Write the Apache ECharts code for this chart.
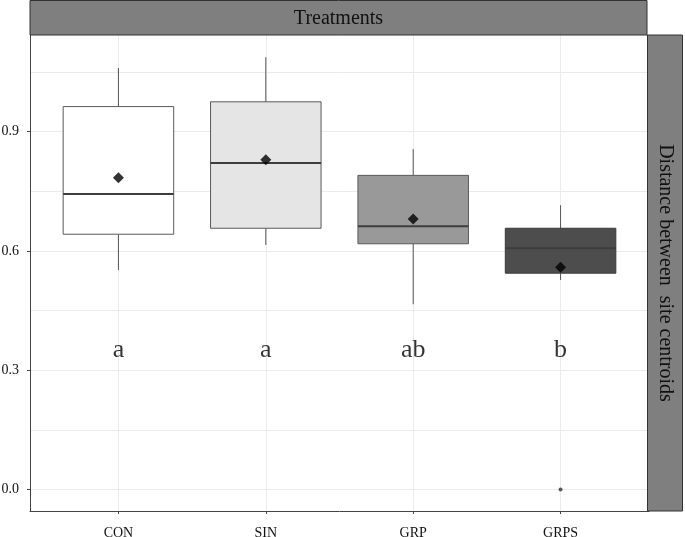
<!DOCTYPE html>
<html>
<head>
<meta charset="utf-8">
<script src="https://cdn.jsdelivr.net/npm/echarts@6/dist/echarts.min.js"></script>
<style>
  html, body { margin: 0; padding: 0; background: #fff; }
  #chart { width: 685px; height: 537px; }
</style>
</head>
<body>
<div id="chart"></div>
<script>
// boxplot stats per treatment
const categories = ['CON', 'SIN', 'GRP', 'GRPS'];
const whiskerLow = [0.552, 0.615, 0.466, 0.527];
const q1 = [0.642, 0.657, 0.618, 0.544];
const medians = [0.743, 0.821, 0.662, 0.607];
const q3 = [0.963, 0.975, 0.790, 0.657];
const whiskerHigh = [1.06, 1.087, 0.856, 0.715];
const means = [0.784, 0.829, 0.680, 0.559];
const letters = ['a', 'a', 'ab', 'b'];
const outliers = [[4, 0.0]];
const boxFills = ['#ffffff', '#e5e5e5', '#999999', '#4d4d4d'];

const yTicks = [0, 0.3, 0.6, 0.9];
const yMinor = [0.15, 0.45, 0.75, 1.05];
const xTicks = [1, 2, 3, 4];

const FONT = 'Liberation Serif';
const chart = echarts.init(document.getElementById('chart'));

const boxData = categories.map((c, i) => [i + 1, whiskerLow[i], q1[i], medians[i], q3[i], whiskerHigh[i]]);

function renderBox(params, api) {
  const x = api.value(0);
  const half = 0.375;
  const lo = api.coord([x, api.value(1)]);
  const b1 = api.coord([x - half, api.value(2)]);
  const md = api.coord([x, api.value(3)]);
  const b3 = api.coord([x + half, api.value(4)]);
  const hi = api.coord([x, api.value(5)]);
  const fill = boxFills[params.dataIndex];
  const edge = params.dataIndex === 3 ? '#3a3a3a' : '#5a5a5a';
  return {
    type: 'group',
    children: [
      { type: 'line', shape: { x1: hi[0], y1: hi[1], x2: hi[0], y2: b3[1] }, style: { stroke: '#555', lineWidth: 1 } },
      { type: 'line', shape: { x1: lo[0], y1: b1[1], x2: lo[0], y2: lo[1] }, style: { stroke: '#555', lineWidth: 1 } },
      { type: 'rect', shape: { x: b1[0], y: b3[1], width: b3[0] - b1[0], height: b1[1] - b3[1] },
        style: { fill: fill, stroke: edge, lineWidth: 1 } },
      { type: 'line', shape: { x1: b1[0], y1: md[1], x2: b3[0], y2: md[1] }, style: { stroke: '#3d3d3d', lineWidth: 2 } }
    ]
  };
}

const option = {
  animation: false,
  backgroundColor: '#fff',
  grid: { left: 30, right: 36, top: 35, bottom: 26, outerBoundsMode: 'none' },
  xAxis: {
    type: 'value',
    min: 0.4,
    max: 4.6,
    axisLine: { show: true, onZero: false, lineStyle: { color: '#444', width: 1 } },
    axisTick: { show: true, customValues: xTicks, length: 3, lineStyle: { color: '#444' } },
    axisLabel: {
      customValues: xTicks,
      formatter: v => categories[Math.round(v) - 1],
      color: '#111', fontFamily: FONT, fontSize: 14, margin: 15
    },
    splitLine: { show: false }
  },
  yAxis: {
    type: 'value',
    min: -0.054,
    max: 1.143,
    axisLine: { show: true, onZero: false, lineStyle: { color: '#444', width: 1 } },
    axisTick: { show: true, customValues: yTicks, length: 3, lineStyle: { color: '#444' } },
    axisLabel: {
      customValues: yTicks,
      formatter: v => v.toFixed(1),
      color: '#111', fontFamily: FONT, fontSize: 14, margin: 11
    },
    splitLine: { show: false }
  },
  series: [
    {
      // background grid
      type: 'line',
      data: [],
      z: 0,
      silent: true,
      markLine: {
        z: 0,
        silent: true,
        symbol: 'none',
        label: { show: false },
        animation: false,
        lineStyle: { color: '#ebebeb', width: 1, type: 'solid' },
        data: yTicks.concat(yMinor).map(v => ({ yAxis: v }))
          .concat(xTicks.map(v => ({ xAxis: v })))
      }
    },
    {
      type: 'custom',
      z: 3,
      renderItem: renderBox,
      data: boxData,
      encode: { x: 0, y: [1, 2, 3, 4, 5] }
    },
    {
      type: 'scatter',
      z: 4,
      symbol: 'diamond',
      symbolSize: 11,
      itemStyle: { color: '#000' },
      data: means.map((m, i) => [i + 1, m])
    },
    {
      type: 'scatter',
      z: 4,
      symbol: 'circle',
      symbolSize: 4,
      itemStyle: { color: '#333' },
      data: outliers
    },
    {
      type: 'scatter',
      z: 4,
      symbolSize: 0,
      label: {
        show: true,
        position: 'inside',
        formatter: p => letters[p.dataIndex],
        color: '#000',
        fontFamily: FONT,
        fontSize: 26
      },
      data: letters.map((l, i) => [i + 1, 0.35])
    }
  ],
  graphic: [
    {
      type: 'rect',
      shape: { x: 30, y: 0.5, width: 617, height: 34.5 },
      style: { fill: '#7f7f7f', stroke: '#333', lineWidth: 1 },
      z: 10
    },
    {
      type: 'text',
      x: 338.5, y: 19,
      style: { text: 'Treatments', fill: '#111', font: '20px "Liberation Serif"', align: 'center', verticalAlign: 'middle' },
      z: 11
    },
    {
      type: 'rect',
      shape: { x: 647.5, y: 35, width: 35, height: 476 },
      style: { fill: '#7f7f7f', stroke: '#333', lineWidth: 1 },
      z: 10
    },
    {
      type: 'text',
      x: 665, y: 273,
      rotation: -Math.PI / 2,
      style: { text: 'Distance between  site centroids', fill: '#111', font: '20px "Liberation Serif"', align: 'center', verticalAlign: 'middle' },
      z: 11
    }
  ]
};

chart.setOption(option);
</script>
</body>
</html>
